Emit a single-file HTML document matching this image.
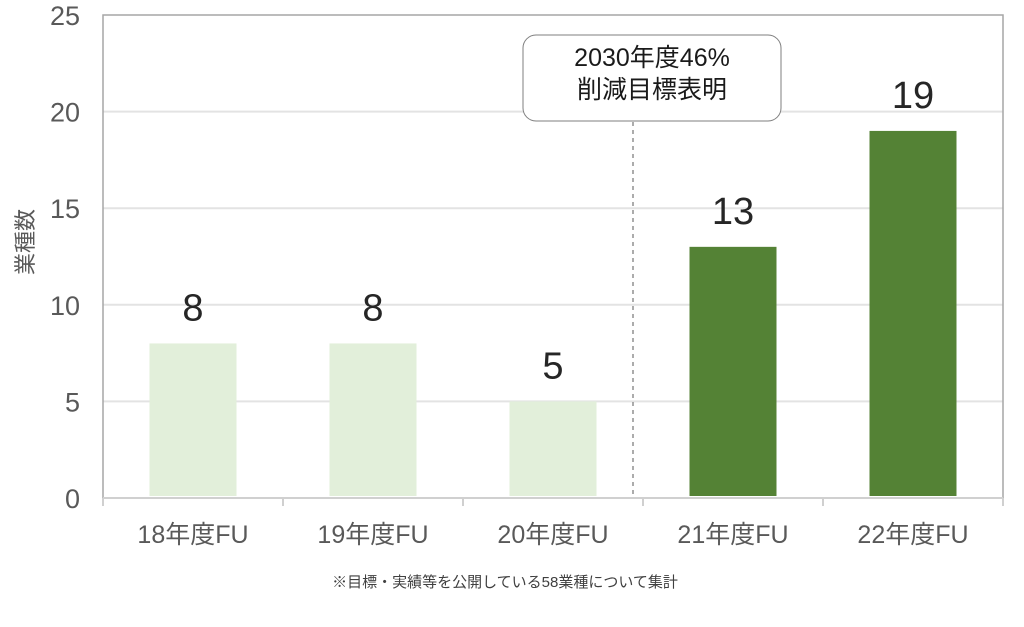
<!DOCTYPE html>
<html><head><meta charset="utf-8"><style>
body{margin:0;background:#fff;}
svg text{font-family:"Liberation Sans","Noto Sans CJK JP",sans-serif;}
</style></head><body>
<svg id="chart" width="1024" height="622" viewBox="0 0 1024 622" xmlns="http://www.w3.org/2000/svg">
<g id="grid"></g>
<rect x="103" y="15" width="900" height="483" fill="none" stroke="#a6a6a6" stroke-width="1.5"/>
<g id="bars"></g>
<g id="axes"></g>
<line x1="633" y1="122" x2="633" y2="498" stroke="#595959" stroke-width="1" stroke-dasharray="4,4"/>
<g>
<rect x="523" y="35" width="258" height="86" rx="13" fill="#fff" stroke="#7f7f7f" stroke-width="1"/>
<text x="652" y="66" text-anchor="middle" font-size="25" fill="#1a1a1a">2030年度46%</text>
<text x="652" y="98" text-anchor="middle" font-size="25" fill="#1a1a1a">削減目標表明</text>
</g>
<text transform="translate(33,242) rotate(-90)" text-anchor="middle" font-size="22" fill="#595959">業種数</text>
<text x="505" y="587" text-anchor="middle" font-size="15" fill="#404040">※目標・実績等を公開している58業種について集計</text>
</svg>
<script>
const categories = ["18年度FU","19年度FU","20年度FU","21年度FU","22年度FU"];
const values = [8, 8, 5, 13, 19];
const highlighted = [false, false, false, true, true];
const yTicks = [0, 5, 10, 15, 20, 25];
const NS = "http://www.w3.org/2000/svg";
const x0 = 103, x1 = 1003, yBase = 498, yTop = 15, yMax = 25;
const band = (x1 - x0) / categories.length;
function y(v){ return yBase - (v / yMax) * (yBase - yTop); }
function xc(i){ return x0 + band * (i + 0.5); }
function mk(tag, attrs, parent){ const e=document.createElementNS(NS,tag); for(const k in attrs) e.setAttribute(k,attrs[k]); parent.appendChild(e); return e; }
const grid=document.getElementById('grid'), bars=document.getElementById('bars'), axes=document.getElementById('axes');
yTicks.forEach(t=>{
  if(t>0 && t<yMax){
    const l=mk('line',{x1:x0,x2:x1,y1:y(t),y2:y(t),stroke:'#e3e3e3','stroke-width':2},grid);
    
    
  }
  const tx=mk('text',{x:80,y:y(t)+10,'text-anchor':'end','font-size':27,fill:'#595959'},axes);
  tx.textContent=t;
  
  
});
const ax=mk('line',{x1:x0,x2:x1,y1:yBase,y2:yBase,stroke:'#d0d0d0','stroke-width':2},axes);


for(let i=0;i<=categories.length;i++){
  const tk=mk('line',{x1:x0+band*i,x2:x0+band*i,y1:yBase,y2:yBase+8,stroke:'#d0d0d0','stroke-width':2},axes);
  
  
}
categories.forEach((c,i)=>{
  const w=87;
  const r=mk('rect',{x:xc(i)-w/2,y:y(values[i]),width:w,height:yBase-2-y(values[i]),fill:highlighted[i]?'#548235':'#e2efda'},bars);
  
  
  const vl=mk('text',{x:xc(i),y:y(values[i])-23,'text-anchor':'middle','font-size':38,fill:'#262626'},bars);
  vl.textContent=values[i];
  
  
  const cl=mk('text',{x:xc(i),y:543,'text-anchor':'middle','font-size':25,fill:'#595959'},axes);
  cl.textContent=c;
  
  
});
</script>
</body></html>
